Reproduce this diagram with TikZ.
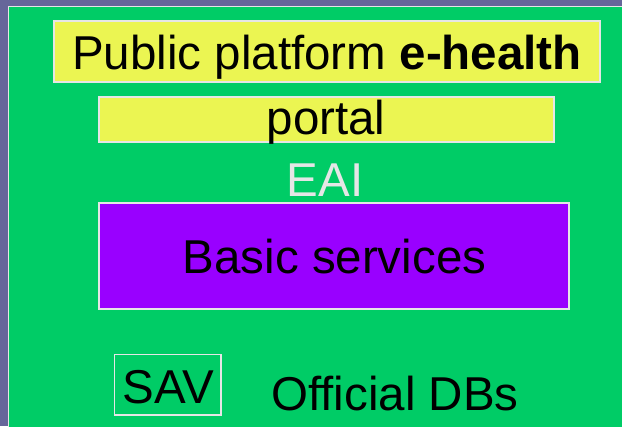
\documentclass[tikz,border=0pt]{standalone}
\usepackage{fontspec}
\setmainfont{Liberation Sans}
\definecolor{bgpurple}{HTML}{66669A}
\definecolor{slidegreen}{HTML}{00CC66}
\definecolor{boxyellow}{HTML}{EBF552}
\definecolor{boxpurple}{HTML}{9900FF}
\definecolor{edgegrey}{HTML}{E6E6E6}
\begin{document}
\begin{tikzpicture}[x=1bp,y=-1bp,
  bigtext/.style={font=\fontsize{47.5bp}{57bp}\selectfont, inner sep=0pt, anchor=base},
  panel/.style={draw=edgegrey, line width=1.5bp}]
\useasboundingbox (0,0) rectangle (622,426);
\fill[bgpurple] (0,0) rectangle (622,426);
\fill[slidegreen, draw=edgegrey, line width=1.5bp] (8.5,6.5) rectangle (626,430);
% title
\filldraw[panel, fill=boxyellow] (54,21) rectangle (600,82);
\node[bigtext] (title) at (327,69) {Public platform \textbf{e-health}};
% portal
\filldraw[panel, fill=boxyellow] (99,97) rectangle (554,142);
\node[bigtext] (portal) at (326,134) {portal};
% EAI
\node[bigtext, text=edgegrey] (eai) at (325,196) {EAI};
% basic services
\filldraw[panel, fill=boxpurple] (99,203) rectangle (569,309);
\node[bigtext] (basic) at (334.5,273) {Basic services};
% SAV
\draw[panel] (114.5,354.5) rectangle (221,415);
\node[bigtext] (sav) at (168.5,403) {SAV};
% Official DBs
\node[bigtext] (dbs) at (395,410) {Official DBs};
\end{tikzpicture}
\end{document}
